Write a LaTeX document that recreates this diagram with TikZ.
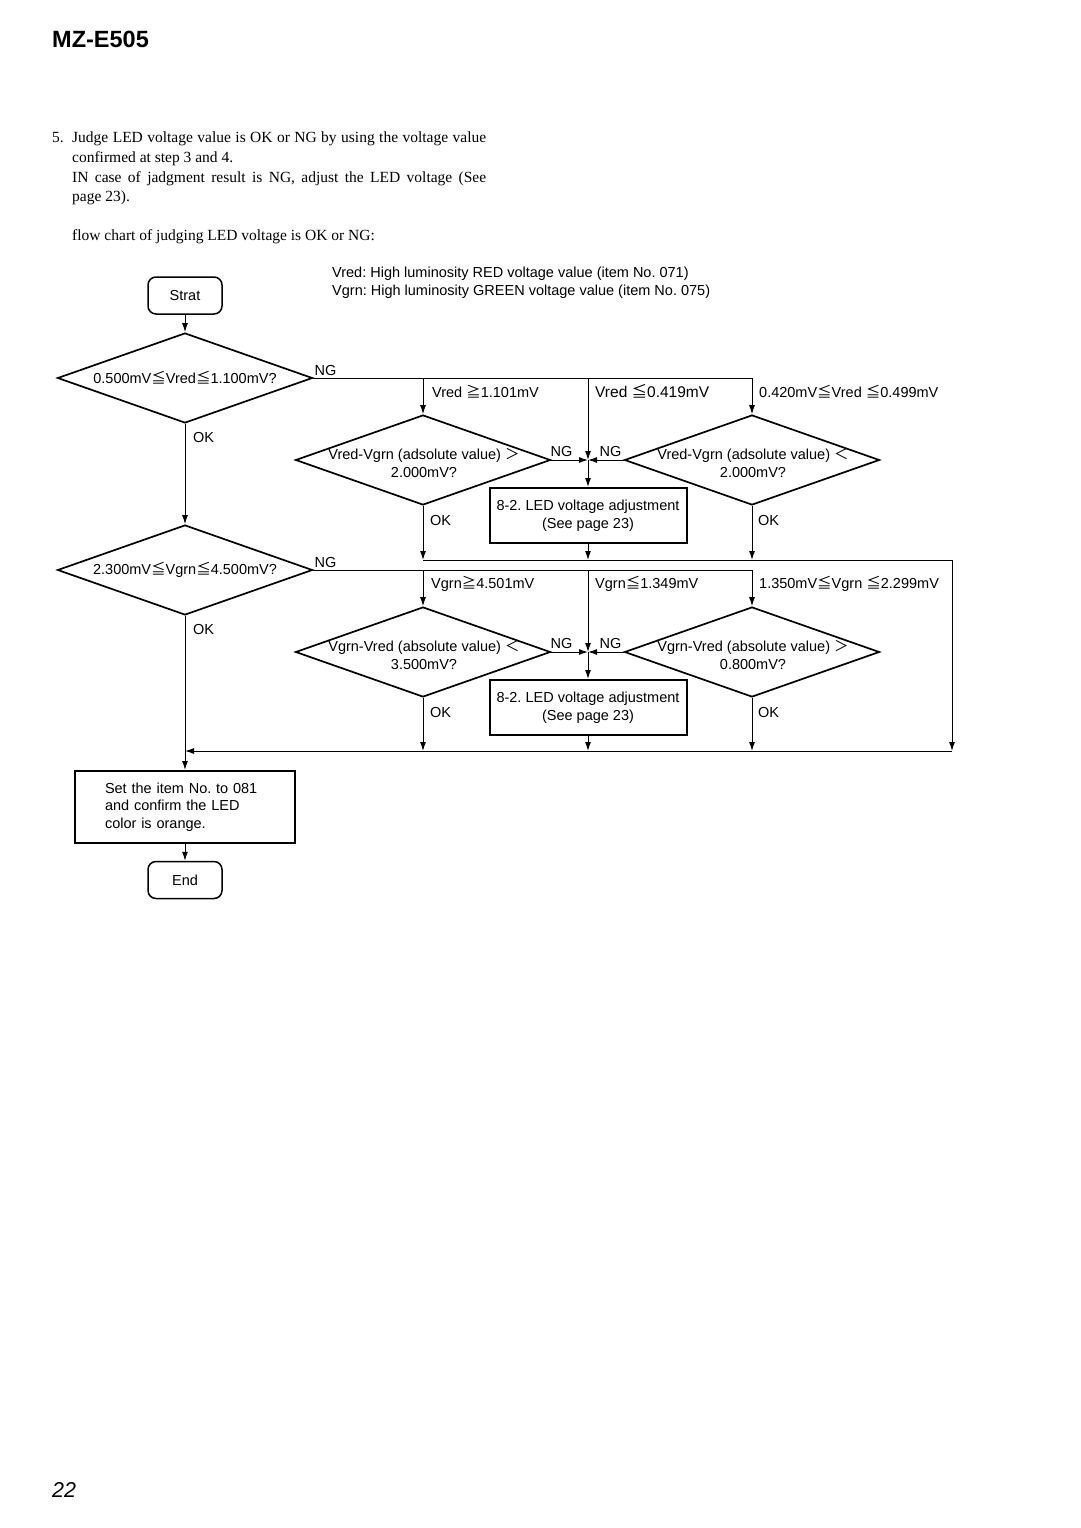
\documentclass[tikz,border=0pt]{standalone}
\usepackage{fontspec}
\setmainfont{Liberation Sans}
\newfontfamily\serifnt{Liberation Serif}
\newfontfamily\cjkfnt{Noto Sans CJK JP}
\usetikzlibrary{shapes.geometric,arrows.meta}
\newcommand\LEs{{\cjkfnt ≦}}
\newcommand\GEs{{\cjkfnt ≧}}
\newcommand\LTs{{\cjkfnt ＜}}
\newcommand\GTs{{\cjkfnt ＞}}
\frenchspacing
\begin{document}
\begin{tikzpicture}[x=1pt,y=-1pt,
  every node/.style={inner sep=0pt, font=\fontsize{14.5}{17.5}\selectfont},
  dia/.style={diamond, draw, line width=1.7pt, minimum width=255pt, minimum height=90pt, inner sep=0pt},
  termbox/.style={draw, line width=1.5pt, rounded corners=8pt, minimum width=74pt, minimum height=37pt},
  procbox/.style={draw, line width=2pt},
  conn/.style={line width=1pt},
  arr/.style={conn, -{Latex[length=9pt,width=6pt]}},
  lbl/.style={anchor=base west},
  lble/.style={anchor=base east},
  para/.style={anchor=base west, font=\serifnt\fontsize{15.5}{19.5}\selectfont},
]
\useasboundingbox (0,0) rectangle (1080,1528);

% header
\node[anchor=base west, font=\fontsize{23.5}{27}\selectfont\bfseries] (title) at (52,48) {MZ-E505};
\node[para] (p0) at (52,142) {5.};
\node[para] (p1) at (72,142) {\hbox to 414pt{Judge LED voltage value is OK or NG by using the voltage value}};
\node[para] (p2) at (72,162) {confirmed at step 3 and 4.};
\node[para] (p3) at (72,182) {\hbox to 414pt{IN case of jadgment result is NG, adjust the LED voltage (See}};
\node[para] (p4) at (72,201) {page 23).};
\node[para] (p5) at (72,240) {flow chart of judging LED voltage is OK or NG:};

\node[lbl] (leg1) at (332,277) {Vred: High luminosity RED voltage value (item No. 071)};
\node[lbl] (leg2) at (332,295) {Vgrn: High luminosity GREEN voltage value (item No. 075)};

% shapes
\node[termbox] (start) at (185,295.5) {Strat};
\node[dia] (d1) at (185,378) {};
\node (d1t) at (185,378) {0.500mV\LEs Vred\LEs 1.100mV?};
\node[dia] (d2) at (423,460) {};
\node[align=center] (d2t) at (424,463) {Vred-Vgrn (adsolute value) \GTs\\2.000mV?};
\node[dia] (d3) at (752,460) {};
\node[align=center] (d3t) at (753,463) {Vred-Vgrn (adsolute value) \LTs\\2.000mV?};
\node[procbox, minimum width=197pt, minimum height=55pt, align=center] (b1) at (588,515.5) {8-2. LED voltage adjustment\\(See page 23)};

\node[dia] (d4) at (185,570) {};
\node (d4t) at (185,570) {2.300mV\LEs Vgrn\LEs 4.500mV?};
\node[dia] (d5) at (423,652) {};
\node[align=center] (d5t) at (424,655) {Vgrn-Vred (absolute value) \LTs\\3.500mV?};
\node[dia] (d6) at (752,652) {};
\node[align=center] (d6t) at (753,655) {Vgrn-Vred (absolute value) \GTs\\0.800mV?};
\node[procbox, minimum width=197pt, minimum height=55pt, align=center] (b2) at (588,707.5) {8-2. LED voltage adjustment\\(See page 23)};

\node[procbox, minimum width=220pt, minimum height=72pt, text width=160pt, align=left] (b3) at (185,807) {Set the item No. to 081\\and confirm the LED\\color is orange.};
\node[termbox] (end) at (185,880) {End};

% coordinates
\coordinate (c1a) at (423,378);
\coordinate (c1b) at (588,378);
\coordinate (c1c) at (752,378);
\coordinate (j1) at (588,460);
\coordinate (m1a) at (423,560);
\coordinate (m1b) at (588,560);
\coordinate (m1c) at (752,560);
\coordinate (m1d) at (952,560);
\coordinate (c2a) at (423,570);
\coordinate (c2b) at (588,570);
\coordinate (c2c) at (752,570);
\coordinate (j2) at (588,652);
\coordinate (e1a) at (423,751);
\coordinate (e1b) at (588,751);
\coordinate (e1c) at (752,751);
\coordinate (e1d) at (952,751);
\coordinate (e0) at (185,751);

% connectors group 1
\draw[arr] (start.south) -- (d1.north);
\draw[conn] (d1.east) -- (c1c);
\draw[arr] (c1a) -- (d2.north);
\draw[arr] (c1b) -- (j1);
\draw[arr] (c1c) -- (d3.north);
\draw[arr] (d2.east) -- (j1);
\draw[arr] (d3.west) -- (j1);
\draw[arr] (j1) -- (b1.north);
\draw[arr] (d2.south) -- (m1a);
\draw[arr] (b1.south) -- (m1b);
\draw[arr] (d3.south) -- (m1c);
\draw[conn] (m1a) -- (m1d);
\draw[arr] (m1d) -- (e1d);
\draw[arr] (d1.south) -- (d4.north);

% connectors group 2
\draw[conn] (d4.east) -- (c2c);
\draw[arr] (c2a) -- (d5.north);
\draw[arr] (c2b) -- (j2);
\draw[arr] (c2c) -- (d6.north);
\draw[arr] (d5.east) -- (j2);
\draw[arr] (d6.west) -- (j2);
\draw[arr] (j2) -- (b2.north);
\draw[arr] (d5.south) -- (e1a);
\draw[arr] (b2.south) -- (e1b);
\draw[arr] (d6.south) -- (e1c);
\draw[arr] (e1d) -- (e0);
\draw[arr] (d4.south) -- (b3.north);
\draw[arr] (b3.south) -- (end.north);

% labels group 1
\node[lbl] (ng1) at ([xshift=1pt,yshift=3pt]d1.east) {NG};
\node[lbl] (ok1) at ([xshift=8pt,yshift=-19pt]d1.south) {OK};
\node[lbl] (l1a) at ([xshift=9pt,yshift=-19pt]c1a) {Vred \GEs 1.101mV};
\node[lbl, font=\fontsize{15.5}{18}\selectfont] (l1b) at ([xshift=7pt,yshift=-19pt]c1b) {Vred \LEs 0.419mV};
\node[lbl] (l1c) at ([xshift=7pt,yshift=-19pt]c1c) {0.420mV\LEs Vred \LEs 0.499mV};
\node[lbl] (ng2) at ([xshift=-1pt,yshift=4pt]d2.east) {NG};
\node[lble] (ng3) at ([xshift=-2pt,yshift=4pt]d3.west) {NG};
\node[lbl] (ok2) at ([xshift=7pt,yshift=-20pt]d2.south) {OK};
\node[lbl] (ok3) at ([xshift=6pt,yshift=-20pt]d3.south) {OK};

% labels group 2
\node[lbl] (ng4) at ([xshift=1pt,yshift=3pt]d4.east) {NG};
\node[lbl] (ok4) at ([xshift=8pt,yshift=-19pt]d4.south) {OK};
\node[lbl] (l2a) at ([xshift=8pt,yshift=-18pt]c2a) {Vgrn\GEs 4.501mV};
\node[lbl] (l2b) at ([xshift=7pt,yshift=-18pt]c2b) {Vgrn\LEs 1.349mV};
\node[lbl] (l2c) at ([xshift=7pt,yshift=-18pt]c2c) {1.350mV\LEs Vgrn \LEs 2.299mV};
\node[lbl] (ng5) at ([xshift=-1pt,yshift=4pt]d5.east) {NG};
\node[lble] (ng6) at ([xshift=-2pt,yshift=4pt]d6.west) {NG};
\node[lbl] (ok5) at ([xshift=7pt,yshift=-20pt]d5.south) {OK};
\node[lbl] (ok6) at ([xshift=6pt,yshift=-20pt]d6.south) {OK};

% page number
\node[anchor=base west, font=\fontsize{21.5}{24}\selectfont\itshape] (pg) at (52,1497) {22};
\end{tikzpicture}
\end{document}
